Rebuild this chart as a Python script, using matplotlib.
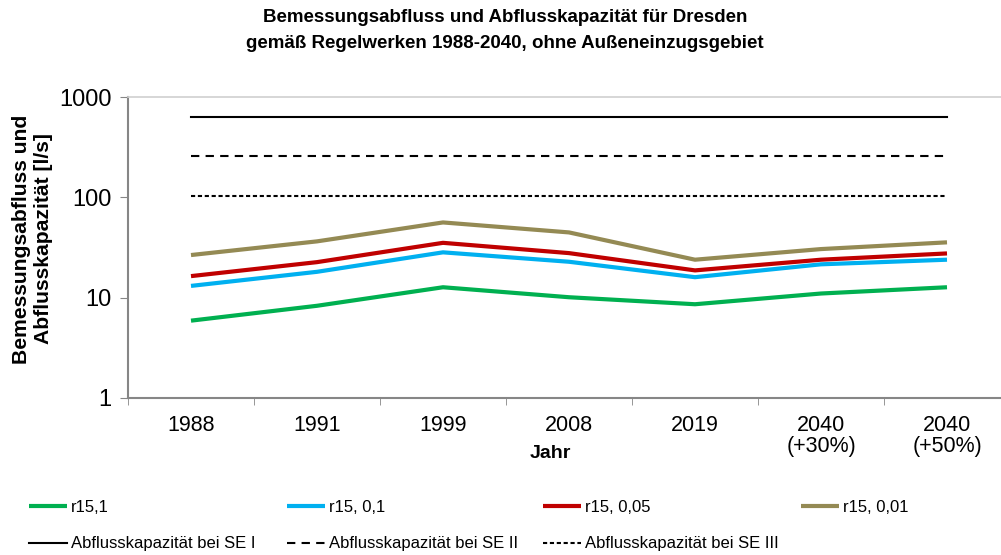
import numpy as np
import matplotlib
matplotlib.use("Agg")
import matplotlib.pyplot as plt

plt.rcParams['font.family'] = ['Liberation Sans', 'DejaVu Sans']

# data (log axis)
jahre = ["1988", "1991", "1999", "2008", "2019", "2040\n(+30%)", "2040\n(+50%)"]
r15_1 = [5.9, 8.3, 12.7, 10.1, 8.6, 11.0, 12.7]
r15_01 = [13.1, 18.1, 28.3, 22.8, 16.0, 21.5, 23.9]
r15_005 = [16.4, 22.6, 35.2, 27.8, 18.7, 23.9, 27.6]
r15_001 = [26.6, 36.4, 56.2, 44.7, 23.9, 30.5, 35.6]
kap_se1 = 625
kap_se2 = 259
kap_se3 = 102

fig = plt.figure(figsize=(10.01, 5.55), dpi=100)
ax = fig.add_axes([128/1001, 1-398/555, 882/1001, 301/555])

x = np.arange(len(jahre))
l_g, = ax.plot(x, r15_1, c="#00B050", lw=3, solid_capstyle="butt")
l_b, = ax.plot(x, r15_01, c="#00B0F0", lw=3, solid_capstyle="butt")
l_r, = ax.plot(x, r15_005, c="#C00000", lw=3, solid_capstyle="butt")
l_o, = ax.plot(x, r15_001, c="#948A54", lw=3, solid_capstyle="butt")
l_s1, = ax.plot(x, [kap_se1]*len(x), c="black", lw=1.5)
l_s2, = ax.plot(x, [kap_se2]*len(x), c="black", lw=1.5, dashes=(4, 3))
l_s3, = ax.plot(x, [kap_se3]*len(x), c="black", lw=1.5, dashes=(2, 1.3))

ax.set_yscale("log")
ax.set_ylim(1, 1000)
ax.set_xlim(-0.5, len(jahre)-0.5)
ax.set_yticks([1, 10, 100, 1000])
ax.set_yticklabels(["1", "10", "100", "1000"], fontsize=17)
ax.yaxis.set_minor_locator(matplotlib.ticker.NullLocator())
ax.tick_params(axis="y", which="major", length=6, color="#868686", pad=6)

ax.set_xticks(x)
ax.set_xticklabels(jahre, fontsize=15.5, va="top", linespacing=1.05)
ax.tick_params(axis="x", which="major", length=0, pad=12)
ax.set_xticks(np.arange(-0.5, len(jahre), 1.0), minor=True)
ax.tick_params(axis="x", which="minor", length=5, color="#868686")

ax.spines["right"].set_visible(False)
ax.spines["left"].set_color("#868686")
ax.spines["bottom"].set_color("#868686")
ax.spines["left"].set_linewidth(1.5)
ax.spines["bottom"].set_linewidth(1.5)
ax.spines["top"].set_color("#D0D0D0")
ax.spines["top"].set_linewidth(1.2)

fig.text(550/1001, 1-453/555, "Jahr", ha="center", va="center",
         fontsize=14, fontweight="bold")
fig.text(505/1001, 1-18/555, "Bemessungsabfluss und Abflusskapazität für Dresden",
         ha="center", va="center", fontsize=13.5, fontweight="bold")
fig.text(505/1001, 1-43/555, "gemäß Regelwerken 1988-2040, ohne Außeneinzugsgebiet",
         ha="center", va="center", fontsize=13.5, fontweight="bold")
fig.text(33/1001, 1-239/555, "Bemessungsabfluss und\nAbflusskapazität [l/s]",
         ha="center", va="center", rotation=90, fontsize=15.2, fontweight="bold",
         linespacing=1.2)

# legend: four columns of equal width like Excel
cols = [([l_g, l_s1], ["r15,1", "Abflusskapazität bei SE I"]),
        ([l_b, l_s2], ["r15, 0,1", "Abflusskapazität bei SE II"]),
        ([l_r, l_s3], ["r15, 0,05", "Abflusskapazität bei SE III"]),
        ([l_o], ["r15, 0,01"])]
xs = [29, 287, 543, 801]
for (h, lab), xp in zip(cols, xs):
    fig.legend(h, lab, loc="upper left", bbox_to_anchor=(xp/1001, 1-500/555),
               frameon=False, fontsize=12, handlelength=2.3, handletextpad=0.2,
               labelspacing=1.28, borderaxespad=0, borderpad=0)

plt.savefig("out.png", dpi=100)
